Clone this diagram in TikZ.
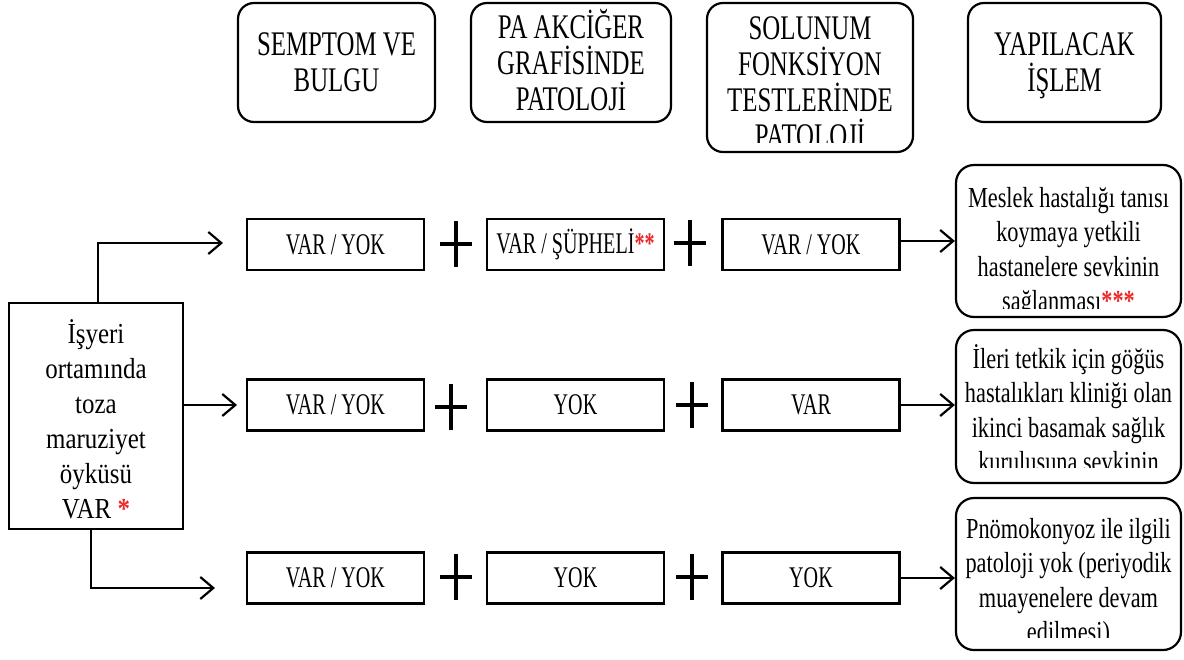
\documentclass[tikz,border=0pt]{standalone}
\usepackage{fontspec}
\setmainfont{Liberation Serif}
\newfontfamily\hdrfont{Liberation Serif}[FakeStretch=0.72]
\newfontfamily\cellfont{Liberation Serif}[FakeStretch=0.67]
\newfontfamily\notefont{Liberation Serif}[FakeStretch=0.77]
\newfontfamily\srcfont{Liberation Serif}[FakeStretch=0.86]
\usetikzlibrary{arrows.meta}
\definecolor{astred}{RGB}{236,40,40}
% invisible rule fixing the height of a block's first line
\newcommand\firstline[1]{\rule{0pt}{#1}}
\newcommand\redmark[1]{{\color{astred}\bfseries#1}}
% keep line pitch fixed, whatever the glyph heights
\newcommand\fixedpitch{\lineskiplimit=-100pt\relax}

\tikzset{
  x=1pt, y=-1pt,
  headbox/.style={draw, line width=2.2pt, rounded corners=16pt, inner sep=0pt},
  notebox/.style={draw, line width=2.2pt, rounded corners=18pt, inner sep=0pt,
    minimum width=225pt},
  cell/.style={draw, line width=2.2pt, inner sep=0pt, minimum width=177pt,
    minimum height=51pt, font=\cellfont\fontsize{30}{34}\selectfont},
  srcbox/.style={draw, line width=2.2pt, inner sep=0pt},
  headtext/.style={anchor=north, inner sep=0pt, align=center,
    font=\hdrfont\fontsize{34.5}{36}\selectfont\fixedpitch},
  notetext/.style={anchor=north, inner sep=0pt, align=center,
    font=\notefont\fontsize{29}{34.5}\selectfont\fixedpitch},
  srctext/.style={anchor=north, inner sep=0pt, align=center,
    font=\srcfont\fontsize{29}{35}\selectfont\fixedpitch},
  flow/.style={line width=2.2pt, -{Straight Barb[length=13pt,width=22pt,line width=2.2pt]}},
  plusmark/.pic={\draw[line width=4.8pt] (-16,0) -- (16,0) (0,-23) -- (0,23);}
}

\begin{document}
\begin{tikzpicture}
\useasboundingbox (0,0) rectangle (1184,659);

% column headers
\node[headbox, minimum width=197pt, minimum height=119pt] (h1) at (336.5,62.5) {};
\node[headbox, minimum width=200pt, minimum height=119pt] (h2) at (571,62.5) {};
\node[headbox, minimum width=206pt, minimum height=149pt] (h3) at (810,77.5) {};
\node[headbox, minimum width=193pt, minimum height=119pt] (h4) at (1064.5,62.5) {};

\node[headtext] (h1t) at (336.5,23) {\firstline{32pt}SEMPTOM VE\\BULGU};
\node[headtext] (h2t) at (571,6) {\firstline{32pt}PA AKCİĞER\\GRAFİSİNDE\\PATOLOJİ};
\begin{scope}
  \clip (707,3) rectangle (913,142);
  \node[headtext] (h3t) at (810,7) {\firstline{32pt}SOLUNUM\\FONKSİYON\\TESTLERİNDE\\PATOLOJİ};
\end{scope}
\node[headtext] (h4t) at (1064.5,23) {\firstline{32pt}YAPILACAK\\İŞLEM};

% exposure history
\node[srcbox, minimum width=174pt, minimum height=226pt] (src) at (96,416) {};
\node[srctext] (srct) at (96,315)
  {\firstline{28pt}İşyeri\\ortamında\\toza\\maruziyet\\öyküsü\\VAR \redmark{*}};

% finding combinations
\node[cell] (c11) at (335.5,244.5) {VAR / YOK};
\node[cell] (c12) at (575.5,244.5) {VAR / ŞÜPHELİ\redmark{**}};
\node[cell] (c13) at (811,244.5) {VAR / YOK};
\node[cell] (c21) at (335.5,405) {VAR / YOK};
\node[cell] (c22) at (575.5,405) {YOK};
\node[cell] (c23) at (811,405) {VAR};
\node[cell] (c31) at (335.5,578) {VAR / YOK};
\node[cell] (c32) at (575.5,578) {YOK};
\node[cell] (c33) at (811,578) {YOK};

\pic at (456,244) {plusmark};
\pic at (690,243) {plusmark};
\pic at (451,407) {plusmark};
\pic at (692,405) {plusmark};
\pic at (456,577) {plusmark};
\pic at (692,577) {plusmark};

% actions
\node[notebox, minimum height=152pt] (r1) at (1068.5,241) {};
\node[notebox, minimum height=153pt] (r2) at (1068.5,406.5) {};
\node[notebox, minimum height=152pt] (r3) at (1068.5,574) {};

\begin{scope}
  \clip (956,165) rectangle (1181,308);
  \node[notetext] (r1t) at (1068.5,179)
    {\firstline{28pt}Meslek hastalığı tanısı\\koymaya yetkili\\hastanelere sevkinin\\sağlanması\redmark{***}};
\end{scope}
\begin{scope}
  \clip (956,330) rectangle (1181,467);
  \node[notetext] (r2t) at (1068.5,340)
    {\firstline{28pt}İleri tetkik için göğüs\\hastalıkları kliniği olan\\ikinci basamak sağlık\\kuruluşuna sevkinin};
\end{scope}
\begin{scope}
  \clip (956,498) rectangle (1181,637);
  \node[notetext] (r3t) at (1068.5,510)
    {\firstline{28pt}Pnömokonyoz ile ilgili\\patoloji yok (periyodik\\muayenelere devam\\edilmesi)};
\end{scope}

% connectors
\coordinate (t1) at (223,243);
\coordinate (t2) at (237,405);
\coordinate (t3) at (215,588);
\draw[flow] ([xshift=2pt]src.north) |- (t1);
\draw[flow] (src.east |- t2) -- (t2);
\draw[flow] ([xshift=-5pt]src.south) |- (t3);

\draw[flow] (c13.east |- r1) -- (r1.west);
\draw[flow] (c23.east) -- (c23.east -| r2.west);
\draw[flow] (c33.east) -- (c33.east -| r3.west);
\end{tikzpicture}
\end{document}
